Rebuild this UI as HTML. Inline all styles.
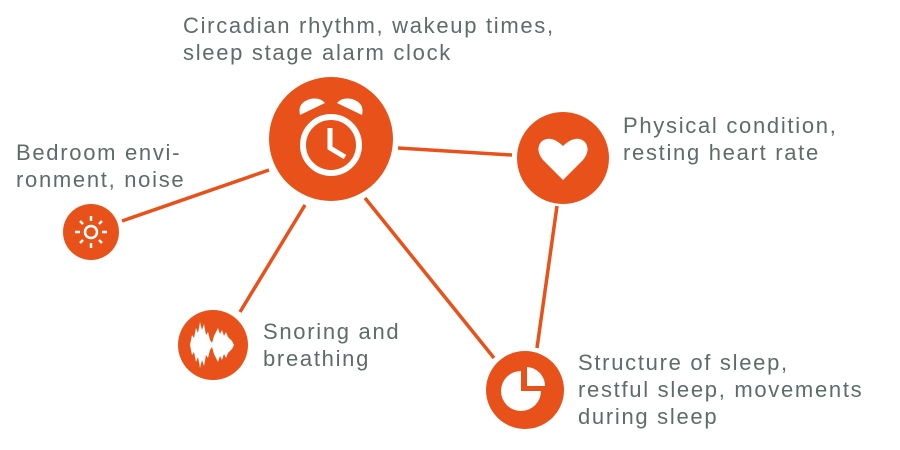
<!DOCTYPE html>
<html><head><style>
body{margin:0;width:900px;height:450px;background:#fff;overflow:hidden;position:relative;font-family:"Liberation Sans",sans-serif;}
.t{position:absolute;color:#5d6b69;font-size:22px;line-height:27px;letter-spacing:1.7px;white-space:nowrap}
svg{position:absolute;left:0;top:0}
</style></head><body>
<svg width="900" height="450">
<g stroke="#e8521a" stroke-width="3.5" stroke-linecap="butt">
<line x1="269" y1="170" x2="122" y2="221"/>
<line x1="305" y1="205" x2="240" y2="312"/>
<line x1="365" y1="198" x2="494" y2="358"/>
<line x1="398" y1="148" x2="512" y2="155"/>
<line x1="557" y1="206" x2="537" y2="348"/>
</g>
<g fill="#e8521a">
<circle cx="331" cy="139" r="62"/>
<circle cx="563" cy="158" r="46"/>
<circle cx="91" cy="232" r="28"/>
<circle cx="213" cy="345" r="35"/>
<circle cx="525" cy="390" r="39"/>
</g>
<g fill="#fff" stroke="none">
<path d="M300 115 q-3 -12 10 -16 q10 -2 15 4 z"/>
<path d="M362 115 q3 -12 -10 -16 q-10 -2 -15 4 z"/>
</g>
<circle cx="331" cy="145" r="28" fill="none" stroke="#fff" stroke-width="6"/>
<polyline points="330,128 330,148 345,157" fill="none" stroke="#fff" stroke-width="5"/>
<g stroke="#fff" stroke-width="2.5">
<circle cx="91" cy="232" r="6" fill="none"/>
<line x1="91" y1="216" x2="91" y2="221"/><line x1="91" y1="243" x2="91" y2="248"/>
<line x1="75" y1="232" x2="80" y2="232"/><line x1="102" y1="232" x2="107" y2="232"/>
<line x1="80" y1="221" x2="83" y2="224"/><line x1="99" y1="240" x2="102" y2="243"/>
<line x1="80" y1="243" x2="83" y2="240"/><line x1="99" y1="224" x2="102" y2="221"/>
</g>
<path d="M190 345 L192 335 L194 338 L196 328 L198 333 L200 322 L202 330 L204 324 L206 335 L208 332 L210 340 L212 343 L214 336 L216 332 L218 328 L220 334 L222 330 L224 336 L226 332 L228 337 L232 341 L234 345 L232 349 L228 353 L226 358 L224 354 L222 360 L220 356 L218 362 L216 358 L214 354 L212 347 L210 350 L208 358 L206 355 L204 366 L202 360 L200 368 L198 357 L196 362 L194 352 L192 355 Z" fill="#fff"/>
<path d="M563 180 L543 160 Q535 150 541 142 Q550 134 563 146 Q576 134 585 142 Q591 150 583 160 Z" fill="#fff"/>
<path d="M521 371 A20 20 0 1 0 541 391 L521 391 Z" fill="#fff"/>
<path d="M527 367 L527 386 L545 386 A19 19 0 0 0 527 367 Z" fill="#fff"/>
</svg>
<div class="t" style="left:183px;top:12px">Circadian rhythm, wakeup times,<br>sleep stage alarm clock</div>
<div class="t" style="left:623px;top:112px">Physical condition,<br>resting heart rate</div>
<div class="t" style="left:16px;top:139px">Bedroom envi-<br>ronment, noise</div>
<div class="t" style="left:263px;top:318px">Snoring and<br>breathing</div>
<div class="t" style="left:578px;top:349px">Structure of sleep,<br>restful sleep, movements<br>during sleep</div>
</body></html>
